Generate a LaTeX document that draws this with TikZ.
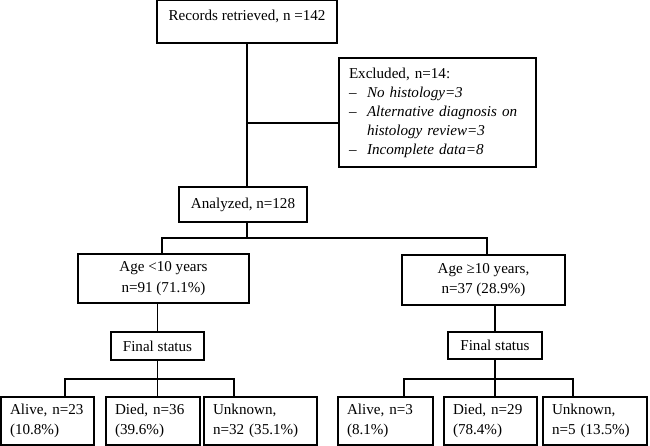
\documentclass[tikz,border=0pt]{standalone}
\usepackage{fontspec}
\setmainfont{Liberation Serif}
\newcommand\boxfont{\fontsize{15.1}{20.5}\selectfont}
\begin{document}
\begin{tikzpicture}[x=1pt,y=-1pt,line width=1.2pt,
  box/.style={draw,line width=1.2pt,inner sep=0pt,font=\boxfont,align=center},
  lbox/.style={draw,line width=1.2pt,inner ysep=0pt,inner xsep=9pt,font=\boxfont,align=left}]
\useasboundingbox (0,0) rectangle (650,446);
\node[box,minimum width=180pt,minimum height=43pt,text height=10.5pt,text depth=12.5pt] (rec) at (247,21.5) {Records retrieved, n =142};
\node[draw,line width=1.2pt,inner ysep=0pt,inner xsep=10pt,align=left,text width=177pt,minimum width=197pt,minimum height=109pt,
  font=\fontsize{15.1}{19}\selectfont] (excl) at (437.5,112.5)
  {Excluded, n=14:\\
   \makebox[18pt][l]{--}\textit{No histology=3}\\
   \makebox[18pt][l]{--}\textit{Alternative diagnosis on}\\
   \hspace*{18pt}\textit{histology review=3}\\
   \makebox[18pt][l]{--}\textit{Incomplete data=8}};
\node[box,minimum width=128pt,minimum height=35pt] (ana) at (243,204.5) {Analyzed, n=128};
\node[box,minimum width=171pt,minimum height=49pt] (age1) at (163.5,278.5) {Age <10 years\\n=91 (71.1\%)};
\node[box,minimum width=163pt,minimum height=50pt] (age2) at (483.5,280) {Age ≥10 years,\\n=37 (28.9\%)};
\node[box,minimum width=93pt,minimum height=28pt] (fs1) at (157.5,346) {Final status};
\node[box,minimum width=94pt,minimum height=27pt] (fs2) at (495,345.5) {Final status};
\node[lbox,text width=75pt,minimum width=93pt,minimum height=48pt] (a1) at (47.5,421) {Alive, n=23\\(10.8\%)};
\node[lbox,text width=76pt,minimum width=94pt,minimum height=48pt] (d1) at (153,421) {Died, n=36\\(39.6\%)};
\node[lbox,text width=95pt,minimum width=113pt,minimum height=48pt] (u1) at (260.5,421) {Unknown,\\n=32 (35.1\%)};
\node[lbox,text width=77pt,minimum width=95pt,minimum height=48pt] (a2) at (385.5,421) {Alive, n=3\\(8.1\%)};
\node[lbox,text width=75pt,minimum width=93pt,minimum height=48pt] (d2) at (490.5,421) {Died, n=29\\(78.4\%)};
\node[lbox,text width=86pt,minimum width=104pt,minimum height=48pt] (u2) at (595,421) {Unknown,\\n=5 (13.5\%)};
% connectors
\draw (rec.south) -- (ana.north -| rec.south);
\coordinate (j) at (247,123);
\draw (j) -- (j -| excl.west);
\coordinate (br) at (247,238);
\coordinate (bl) at (162,238);
\coordinate (brr) at (487,238);
\draw (br |- ana.south) -- (br);
\draw (bl |- age1.north) -- (bl) -- (brr) -- (brr |- age2.north);
\draw (fs1.north |- age1.south) -- (fs1.north);
\draw (fs2.north |- age2.south) -- (fs2.north);
\coordinate (l1) at (65,379);
\coordinate (l3) at (234,379);
\coordinate (r1) at (404,379);
\coordinate (r3) at (573,379);
\draw (l1 |- a1.north) -- (l1) -- (l3) -- (l3 |- u1.north);
\draw (fs1.south) -- (fs1.south |- d1.north);
\draw (r1 |- a2.north) -- (r1) -- (r3) -- (r3 |- u2.north);
\draw (fs2.south) -- (fs2.south |- d2.north);
\end{tikzpicture}
\end{document}
